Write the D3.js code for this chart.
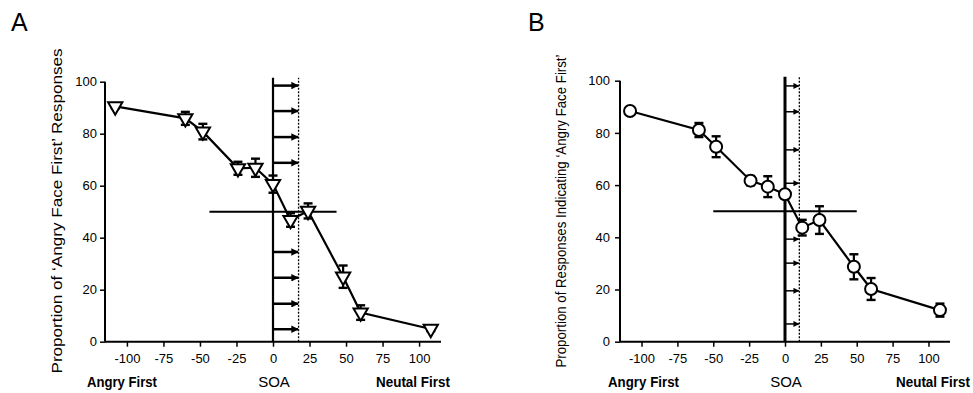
<!DOCTYPE html>
<html>
<head>
<meta charset="utf-8">
<script src="https://cdn.jsdelivr.net/npm/d3@7"></script>
<style>
  html, body { margin: 0; padding: 0; background: #fff; }
  svg { display: block; }
  text { font-family: "Liberation Sans", Arial, Helvetica, sans-serif; fill: #000; }
</style>
</head>
<body>
<svg id="chart" width="973" height="393"></svg>
<script>
// ---- data ----
const soa = [-108, -60, -48, -24, -12, 0, 12, 24, 48, 60, 108];
const propA = [90.5, 85.9, 80.8, 66.7, 66.9, 60.6, 46.8, 50.3, 25.0, 11.2, 4.9];
const errA  = [0.8, 2.5, 3.0, 2.5, 3.5, 3.3, 2.6, 2.9, 4.3, 2.8, 0.8];
const propB = [88.4, 81.1, 74.7, 61.7, 59.4, 56.5, 43.7, 46.6, 28.7, 20.2, 12.1];
const errB  = [1.2, 2.7, 4.0, 1.8, 4.0, 1.5, 3.0, 5.3, 4.8, 4.2, 2.5];
const xTicks = [-100, -75, -50, -25, 0, 25, 50, 75, 100];
const yTicks = [0, 20, 40, 60, 80, 100];
const arrowsA = [98.5, 88.7, 78.7, 68.8, 34.5, 24.6, 14.6, 4.8];
const arrowsB = [98, 88.1, 73.5, 60.7, 39.3, 30.1, 19.5, 6.8];
const pseA = 17.5, pseB = 10;      // dotted line SOA
const halfA = 43.5, halfB = 50;    // half-width of 50% line
const labels = {
  A: "Proportion of \u2018Angry Face First\u2019 Responses",
  B: "Proportion of Responses Indicating \u2018Angry Face First\u2019"
};

const svg = d3.select("#chart");
const defs = svg.append("defs");
defs.append("marker").attr("id", "headA").attr("viewBox", "0 0 10 10")
  .attr("refX", 9).attr("refY", 5).attr("markerWidth", 3).attr("markerHeight", 3)
  .attr("markerUnits", "strokeWidth").attr("orient", "auto")
  .append("path").attr("d", "M0,0L10,5L0,10Z").attr("fill", "#000");
defs.append("marker").attr("id", "headB").attr("viewBox", "0 0 10 10")
  .attr("refX", 9).attr("refY", 5).attr("markerWidth", 4).attr("markerHeight", 4)
  .attr("markerUnits", "strokeWidth").attr("orient", "auto")
  .append("path").attr("d", "M0,0L10,5L0,10Z").attr("fill", "#000");

// text squeezed horizontally to a target width, starting at x0
function squeezed(g, txt, x0, yb, len, bold) {
  const t = g.append("text").attr("x", 0).attr("y", 0)
    .style("font-size", "15px").style("font-weight", bold ? "bold" : "normal")
    .text(txt);
  const w = t.node().getComputedTextLength();
  t.attr("transform", `translate(${x0},${yb}) scale(${len / w},1)`);
  return t;
}

function panel(cfg) {
  const x = d3.scaleLinear().domain([-115, 115]).range(cfg.xr);
  const y = d3.scaleLinear().domain([0, 100]).range(cfg.yr);
  const g = svg.append("g");

  // panel letter
  g.append("text").attr("x", cfg.letterX).attr("y", 31)
    .style("font-size", "25px").text(cfg.letter);

  // axes
  const ax = g.append("g").attr("transform", `translate(0,${cfg.yr[0]})`)
    .call(d3.axisBottom(x).tickValues(xTicks).tickSizeOuter(0).tickSize(5).tickPadding(7).tickFormat(d => String(d)));
  const ay = g.append("g").attr("transform", `translate(${cfg.xr[0]},0)`)
    .call(d3.axisLeft(y).tickValues(yTicks).tickSizeOuter(0).tickSize(5).tickPadding(cfg.ypad).tickFormat(d => String(d)));
  [ax, ay].forEach(a => {
    a.select(".domain").attr("stroke", "#000").attr("stroke-width", 2);
    a.selectAll(".tick line").attr("stroke", "#000").attr("stroke-width", 1.5);
    a.selectAll(".tick text").style("font-size", "13px")
      .style("font-family", '"Liberation Sans", Arial, sans-serif').attr("fill", "#000");
  });
  ax.select(".domain").attr("d", `M${cfg.xr[0]},0H${cfg.xr[1]}`);
  ay.select(".domain").attr("d", `M0,${cfg.yr[0]}V${cfg.yr[1]}`);

  // vertical line at 0
  g.append("line").attr("x1", x(0)).attr("x2", x(0))
    .attr("y1", y(0)).attr("y2", y(100) - 4)
    .attr("stroke", "#000").attr("stroke-width", cfg.zeroW);
  // dotted PSE line
  g.append("line").attr("x1", x(cfg.pse)).attr("x2", x(cfg.pse))
    .attr("y1", y(0)).attr("y2", y(100) - 4)
    .attr("stroke", "#000").attr("stroke-width", 1.3).attr("stroke-dasharray", "2,1.5");
  // arrows
  g.selectAll(".arr").data(cfg.arrows).join("line")
    .attr("x1", x(0)).attr("x2", x(cfg.pse) - 0.5)
    .attr("y1", d => y(d)).attr("y2", d => y(d))
    .attr("stroke", "#000").attr("stroke-width", cfg.arrowW)
    .attr("marker-end", `url(#${cfg.head})`);
  // 50% line
  g.append("line").attr("x1", x(-cfg.half)).attr("x2", x(cfg.half))
    .attr("y1", y(50)).attr("y2", y(50))
    .attr("stroke", "#000").attr("stroke-width", 2);

  // data line
  const pts = soa.map((s, i) => ({ s, v: cfg.vals[i], e: cfg.errs[i] }));
  g.append("path").datum(pts)
    .attr("d", d3.line().x(d => x(d.s)).y(d => y(d.v)))
    .attr("fill", "none").attr("stroke", "#000").attr("stroke-width", 2.2);

  // error bars
  const eb = g.selectAll(".eb").data(pts).join("g");
  eb.append("line").attr("x1", d => x(d.s)).attr("x2", d => x(d.s))
    .attr("y1", d => y(d.v - d.e)).attr("y2", d => y(d.v + d.e))
    .attr("stroke", "#000").attr("stroke-width", 2.2);
  [-1, 1].forEach(sg => {
    eb.append("line").attr("x1", d => x(d.s) - 4.5).attr("x2", d => x(d.s) + 4.5)
      .attr("y1", d => y(d.v + sg * d.e)).attr("y2", d => y(d.v + sg * d.e))
      .attr("stroke", "#000").attr("stroke-width", 2.4);
  });

  // markers
  if (cfg.marker === "tri") {
    const sym = d3.symbol().type(d3.symbolTriangle).size(88);
    g.selectAll(".mk").data(pts).join("path")
      .attr("d", sym)
      .attr("transform", d => `translate(${x(d.s)},${y(d.v)}) rotate(180)`)
      .attr("fill", "#fff").attr("stroke", "#000").attr("stroke-width", 2);
  } else {
    g.selectAll(".mk").data(pts).join("circle")
      .attr("cx", d => x(d.s)).attr("cy", d => y(d.v)).attr("r", 6)
      .attr("fill", "#fff").attr("stroke", "#000").attr("stroke-width", 2);
  }

  // y axis label
  g.append("text")
    .attr("transform", `translate(${cfg.ylabX},${cfg.ylabY}) rotate(-90)`)
    .attr("text-anchor", "middle")
    .attr("textLength", cfg.ylabLen).attr("lengthAdjust", "spacingAndGlyphs")
    .style("font-size", cfg.ylabSize).text(cfg.ylab);

  // bottom labels
  const by = 387;
  squeezed(g, "Angry First", cfg.angryX, by, cfg.angryLen, true);
  g.append("text").attr("x", x(0) + 1).attr("y", by).attr("text-anchor", "middle")
    .style("font-size", "15px").text("SOA");
  squeezed(g, "Neutal First", cfg.neutX, by, cfg.neutLen, true);
}

panel({
  letter: "A", letterX: 11, xr: [105, 441], yr: [341.7, 81.7], ypad: 3,
  vals: propA, errs: errA, arrows: arrowsA, pse: pseA, half: halfA,
  marker: "tri", head: "headA", arrowW: 2.5, zeroW: 2.2,
  ylab: labels.A, ylabX: 62, ylabY: 211, ylabLen: 325, ylabSize: "15px",
  angryX: 87, angryLen: 70, neutX: 376, neutLen: 74
});
panel({
  letter: "B", letterX: 528, xr: [620, 950], yr: [341.7, 80.7], ypad: 5,
  vals: propB, errs: errB, arrows: arrowsB, pse: pseB, half: halfB,
  marker: "circ", head: "headB", arrowW: 1.5, zeroW: 3,
  ylab: labels.B, ylabX: 566, ylabY: 211, ylabLen: 313, ylabSize: "14px",
  angryX: 608, angryLen: 71, neutX: 896, neutLen: 74
});
</script>
</body>
</html>
